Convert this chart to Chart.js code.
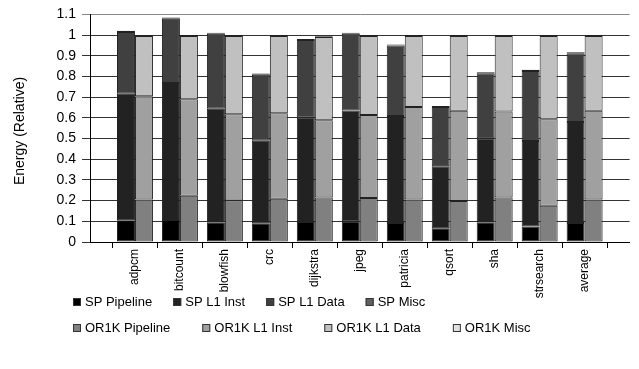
<!DOCTYPE html>
<html>
<head>
<meta charset="utf-8">
<script src="https://cdn.jsdelivr.net/npm/chart.js@4/dist/chart.umd.min.js"></script>
<style>
  html, body { margin: 0; padding: 0; background: #fff; overflow: hidden; }
  canvas { display: block; }
</style>
</head>
<body>
<canvas id="energyChart" width="645" height="369"></canvas>
<script>
(() => {
  'use strict';

  // benchmarks on the x axis
  const benchmarks = ['adpcm', 'bitcount', 'blowfish', 'crc', 'dijkstra', 'jpeg',
    'patricia', 'qsort', 'sha', 'strsearch', 'average'];

  // SP energy breakdown (relative)
  const spPipeline = [0.105, 0.106, 0.096, 0.091, 0.097, 0.100, 0.092, 0.067, 0.096, 0.075, 0.092];
  const spL1Inst   = [0.612, 0.662, 0.548, 0.398, 0.504, 0.536, 0.517, 0.299, 0.406, 0.413, 0.488];
  const spL1Data   = [0.298, 0.311, 0.362, 0.319, 0.375, 0.370, 0.341, 0.286, 0.314, 0.339, 0.332];
  const spMisc     = [0.006, 0.006, 0.005, 0.006, 0.005, 0.005, 0.005, 0.005, 0.005, 0.005, 0.005];

  // OR1K energy breakdown (relative)
  const orPipeline = [0.205, 0.223, 0.200, 0.209, 0.215, 0.213, 0.206, 0.198, 0.215, 0.175, 0.206];
  const orL1Inst   = [0.499, 0.467, 0.417, 0.413, 0.373, 0.401, 0.447, 0.436, 0.416, 0.418, 0.428];
  const orL1Data   = [0.292, 0.306, 0.379, 0.374, 0.403, 0.382, 0.343, 0.362, 0.365, 0.403, 0.362];
  const orMisc     = [0.004, 0.004, 0.004, 0.004, 0.004, 0.004, 0.004, 0.004, 0.004, 0.004, 0.004];

  const yTicks = [0, 0.1, 0.2, 0.3, 0.4, 0.5, 0.6, 0.7, 0.8, 0.9, 1, 1.1];

  // empty slot on each side so the bar pairs sit on the tick marks
  const pad = arr => [null, ...arr, null];

  const series = [
    { label: 'SP Pipeline',    data: spPipeline, stack: 'SP',   color: '#000000' },
    { label: 'SP L1 Inst',     data: spL1Inst,   stack: 'SP',   color: '#222222' },
    { label: 'SP L1 Data',     data: spL1Data,   stack: 'SP',   color: '#404040' },
    { label: 'SP Misc',        data: spMisc,     stack: 'SP',   color: '#606060' },
    { label: 'OR1K Pipeline',  data: orPipeline, stack: 'OR1K', color: '#808080' },
    { label: 'OR1K L1 Inst',   data: orL1Inst,   stack: 'OR1K', color: '#a0a0a0' },
    { label: 'OR1K L1 Data',   data: orL1Data,   stack: 'OR1K', color: '#c0c0c0' },
    { label: 'OR1K Misc',      data: orMisc,     stack: 'OR1K', color: '#e0e0e0' }
  ];

  const FONT = 'Arial, "Liberation Sans", sans-serif';

  // y axis title, drawn by hand so it can sit where the original has it
  const yTitle = {
    id: 'yTitle',
    afterDraw(chart) {
      const c = chart.ctx;
      c.save();
      c.translate(20, 131);
      c.rotate(-Math.PI / 2);
      c.font = '14px ' + FONT;
      c.fillStyle = '#000';
      c.textAlign = 'center';
      c.textBaseline = 'middle';
      c.fillText('Energy (Relative)', 0, 0);
      c.restore();
    }
  };

  // two-row legend, four entries per row
  const rowLegend = {
    id: 'rowLegend',
    afterDraw(chart) {
      const c = chart.ctx;
      const sets = chart.data.datasets;
      const rows = [302, 328];
      const gaps = [21, 32];
      c.save();
      c.font = '13px ' + FONT;
      c.textBaseline = 'middle';
      rows.forEach((y, r) => {
        let x = 73;
        for (let i = r * 4; i < r * 4 + 4; i++) {
          const ds = sets[i];
          c.fillStyle = ds.backgroundColor;
          c.fillRect(x, y - 4, 8, 8);
          c.strokeStyle = '#333';
          c.lineWidth = 1;
          c.strokeRect(x + 0.5, y - 3.5, 7, 7);
          c.fillStyle = '#000';
          c.fillText(ds.label, x + 12, y);
          x += 12 + c.measureText(ds.label).width + gaps[r];
        }
      });
      c.restore();
    }
  };

  const ctx = document.getElementById('energyChart');
  // eslint-disable-next-line no-unused-vars
  const energyChart = new Chart(ctx, {
    type: 'bar',
    data: {
      labels: pad(benchmarks).map(l => l || ''),
      datasets: series.map(s => ({
        label: s.label,
        data: pad(s.data),
        stack: s.stack,
        backgroundColor: s.color,
        borderColor: '#222',
        borderWidth: 1,
        borderSkipped: false,
        categoryPercentage: 0.8,
        barPercentage: 1.0
      }))
    },
    options: {
      responsive: false,
      animation: false,
      layout: { padding: { top: 12, right: 2, left: 0, bottom: 0 } },
      plugins: {
        legend: { display: false },
        tooltip: { enabled: false }
      },
      scales: {
        x: {
          stacked: true,
          offset: false,
          grid: { display: true, drawOnChartArea: false, drawTicks: true, tickLength: 6, color: '#000' },
          border: { display: true, color: '#000', width: 1 },
          ticks: {
            autoSkip: false, minRotation: 90, maxRotation: 90, padding: 1,
            color: '#000', font: { family: FONT, size: 12 }
          },
          afterFit(scale) { scale.height = 127; }
        },
        y: {
          stacked: true,
          min: 0,
          max: 1.1,
          afterBuildTicks(scale) { scale.ticks = yTicks.map(v => ({ value: v })); },
          ticks: {
            padding: 6, color: '#000', font: { family: FONT, size: 14 },
            callback: v => String(+(+v).toFixed(1))
          },
          grid: {
            color: c => (c.tick && c.tick.value === 1.1 ? '#888' : '#333'),
            tickLength: 8,
            lineWidth: 1
          },
          border: { display: true, color: '#000', width: 1 },
          afterFit(scale) { scale.width = 90; }
        }
      }
    },
    plugins: [yTitle, rowLegend]
  });
})();
</script>
</body>
</html>
